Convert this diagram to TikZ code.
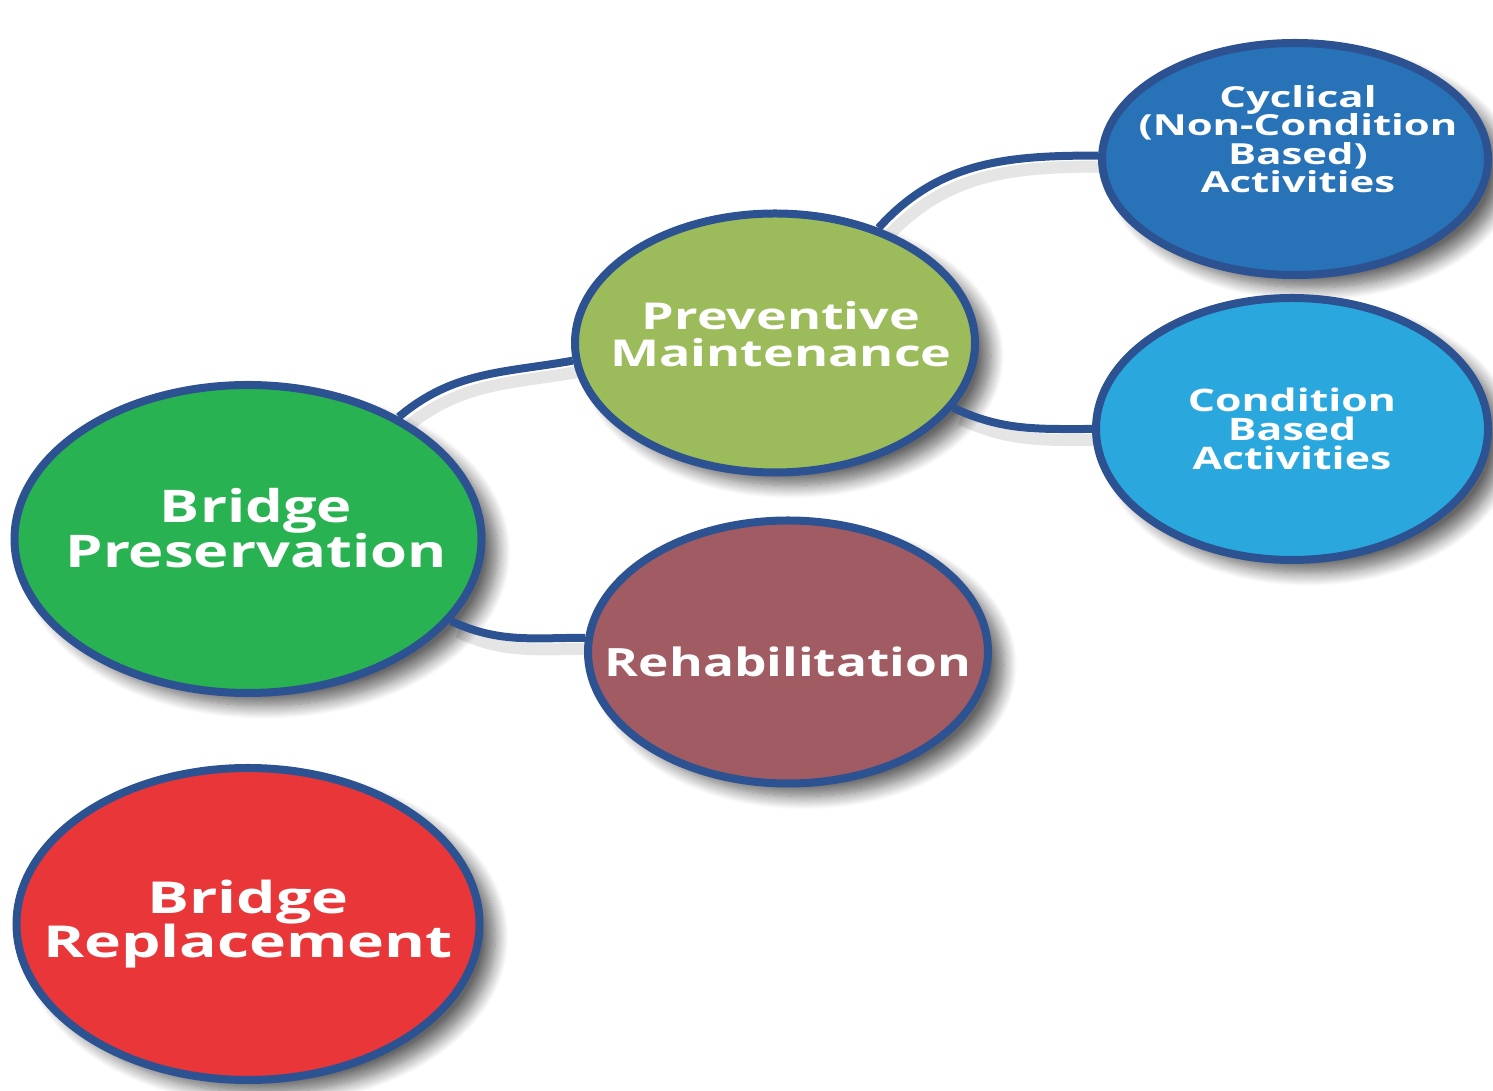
\documentclass[tikz,border=0pt]{standalone}
\usepackage{fontspec}
\setmainfont{Open Sans}
\usetikzlibrary{shapes.geometric,shadows.blur}
\pgfdeclarelayer{bg}
\pgfsetlayers{bg,main}
\definecolor{rim}{RGB}{45,82,145}
\definecolor{cBP}{RGB}{41,178,82}
\definecolor{cPM}{RGB}{156,187,90}
\definecolor{cCY}{RGB}{40,114,184}
\definecolor{cCB}{RGB}{42,168,222}
\definecolor{cRH}{RGB}{160,91,99}
\definecolor{cBR}{RGB}{233,55,57}
% #1 xscale, #2 size, #3 leading, #4 lines separated by \cr
\newcommand{\lbl}[4]{\scalebox{#1}[1]{\fontsize{#2}{#3}\selectfont\bfseries\lineskiplimit=-100pt\lineskip=0pt\vbox{\halign{\hfil##\hfil\cr#4\cr}}}}
\tikzset{
  bubble/.style={ellipse, draw=rim, line width=8pt, inner sep=0pt,
    blur shadow={shadow xshift=16pt, shadow yshift=-13pt, shadow blur radius=13pt, shadow blur steps=14, shadow opacity=60}},
  lab/.style={text=white, inner sep=0pt},
  link/.style={draw=rim, line width=8pt},
  linkshadow/.style={draw=black, line width=12pt, opacity=0.10, transform canvas={shift={(7pt,-11pt)}}}
}
\begin{document}
\begin{tikzpicture}[x=1pt,y=1pt]
\useasboundingbox (0,0) rectangle (1493,1091);
\node[bubble, fill=cBP, minimum width=467pt, minimum height=308pt,
  label={[lab,xshift=8pt,yshift=11pt]center:{\lbl{1.326}{45}{45}{Bridge\cr Preservation}}}] (bp) at (248,552) {};
\node[bubble, fill=cPM, minimum width=400pt, minimum height=259pt,
  label={[lab,xshift=6pt,yshift=9pt]center:{\lbl{1.407}{37}{37}{Preventive\cr Maintenance}}}] (pm) at (775,748) {};
\node[bubble, fill=cCY, minimum width=386pt, minimum height=232pt,
  label={[lab,xshift=3pt,yshift=20pt]center:{\lbl{1.443}{29}{28.5}{Cyclical\cr (Non-Condition\cr Based)\cr Activities}}}] (cy) at (1295,932) {};
\node[bubble, fill=cCB, minimum width=392pt, minimum height=262pt,
  label={[lab]center:{\lbl{1.38}{31}{29}{Condition\cr Based\cr Activities}}}] (cb) at (1292,662) {};
\node[bubble, fill=cRH, minimum width=400pt, minimum height=263pt,
  label={[lab,yshift=-10pt]center:{\lbl{1.32}{39}{40}{Rehabilitation}}}] (rh) at (788,439) {};
\node[bubble, fill=cBR, minimum width=463pt, minimum height=312pt,
  label={[lab]center:{\lbl{1.42}{44}{44}{Bridge\cr Replacement}}}] (br) at (248,167) {};
\begin{pgfonlayer}{bg}
\draw[linkshadow] (bp.39) to[out=40,in=190] (pm.185);
\draw[linkshadow] (pm.48) to[out=48,in=180] (cy.179);
\draw[linkshadow] (pm.-20) to[out=-25,in=180] (cb.180);
\draw[linkshadow] (bp.-22) to[out=-25,in=180] (rh.176);
\end{pgfonlayer}
\draw[link] (bp.39) to[out=40,in=190] (pm.185);
\draw[link] (pm.48) to[out=48,in=180] (cy.179);
\draw[link] (pm.-20) to[out=-25,in=180] (cb.180);
\draw[link] (bp.-22) to[out=-25,in=180] (rh.176);
\end{tikzpicture}
\end{document}
